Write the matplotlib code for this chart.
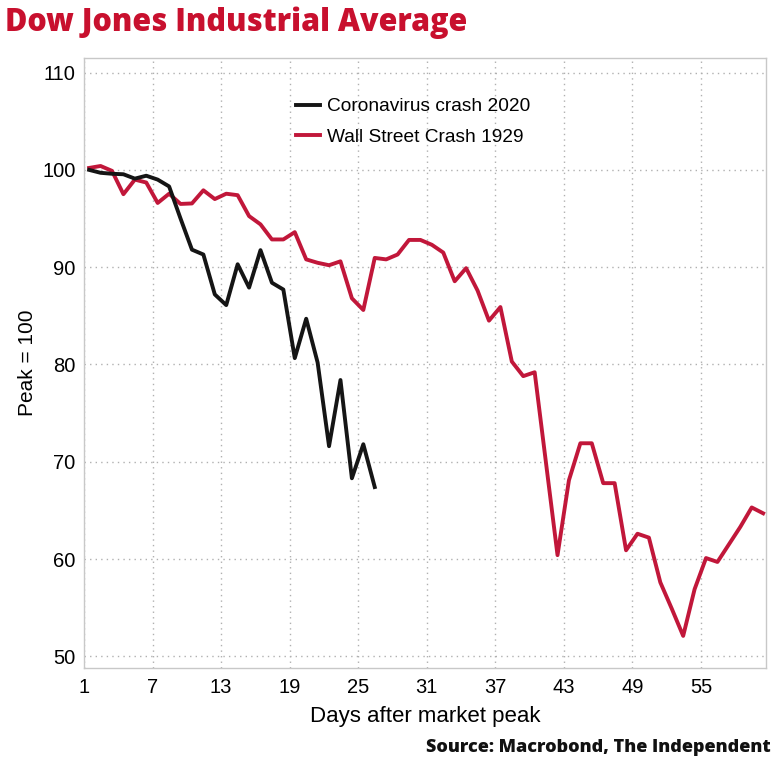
import matplotlib
matplotlib.use("Agg")
import matplotlib.pyplot as plt
import numpy as np

title = "Dow Jones Industrial Average"
source = "Source: Macrobond, The Independent"
xlabel = "Days after market peak"
ylabel = "Peak = 100"
series_names = ["Coronavirus crash 2020", "Wall Street Crash 1929"]

corona_2020 = [100.0, 99.7, 99.6, 99.55, 99.1, 99.4, 99.0, 98.3, 95.0, 91.8,
               91.3, 87.2, 86.1, 90.3, 87.9, 91.75, 88.4, 87.7, 80.65, 84.7,
               80.2, 71.6, 78.4, 68.3, 71.8, 67.4]

crash_1929 = [100.2, 100.4, 99.9, 97.5, 99.0, 98.7, 96.6, 97.55, 96.5, 96.55,
              97.9, 97.0, 97.55, 97.4, 95.25, 94.4, 92.85, 92.85, 93.6, 90.8,
              90.45, 90.2, 90.6, 86.8, 85.6, 90.95, 90.8, 91.3, 92.8, 92.8,
              92.3, 91.5, 88.55, 89.9, 87.6, 84.5, 85.9, 80.3, 78.8, 79.2,
              69.8, 60.4, 68.1, 71.9, 71.9, 67.8, 67.8, 60.9, 62.6, 62.2,
              57.6, 54.9, 52.1, 56.9, 60.1, 59.7, 61.5, 63.3, 65.3, 64.7]

x_ticks = [1, 7, 13, 19, 25, 31, 37, 43, 49, 55]
y_ticks = [50, 60, 70, 80, 90, 100, 110]

RED = "#c1173a"
TITLE_RED = "#c8102e"
BLACK = "#151515"

sans = ["Liberation Sans", "DejaVu Sans"]

fig = plt.figure(figsize=(7.74, 7.6), dpi=100)
ax = fig.add_axes([84/774, 1-668/760, (766-84)/774, (668-58)/760])

offset = 0.45
days_c = np.arange(1, len(corona_2020) + 1) + offset
days_w = np.arange(1, len(crash_1929) + 1) + offset

ax.plot(days_c, corona_2020, color=BLACK, lw=2.8, label=series_names[0], zorder=4)
ax.plot(days_w, crash_1929, color=RED, lw=2.8, label=series_names[1], zorder=3)

ax.set_xlim(1, 60.7)
ax.set_ylim(48.8, 111.5)
ax.set_xticks(x_ticks)
ax.set_yticks(y_ticks)
ax.tick_params(length=0, labelsize=14.5)
ax.tick_params(axis="x", pad=7)
ax.tick_params(axis="y", pad=6)
for lab in ax.get_xticklabels() + ax.get_yticklabels():
    lab.set_family(sans)
ax.grid(True, color="#b0b0b0", linestyle=(0, (1, 3)), linewidth=1.0)
for s in ax.spines.values():
    s.set_color("#c8c8c8")
    s.set_linewidth(1.0)

ax.set_xlabel(xlabel, fontsize=16, family=sans, labelpad=7)
ax.set_ylabel(ylabel, fontsize=15, family=sans, labelpad=4)

leg = ax.legend(loc="upper left", bbox_to_anchor=(0.285, 0.963), frameon=False,
                handlelength=1.25, labelspacing=0.7, handletextpad=0.4,
                prop={"family": sans, "size": 13.8})

fig.text(0.006, 0.97, title, color=TITLE_RED, fontsize=22, fontweight="heavy",
         family=["Open Sans", "DejaVu Sans"], ha="left", va="center")
fig.text(0.995, 0.016, source, color="#111111", fontsize=13, fontweight="heavy",
         family=["Open Sans", "DejaVu Sans"], ha="right", va="center")

fig.savefig("out.png", dpi=100, facecolor="white")
